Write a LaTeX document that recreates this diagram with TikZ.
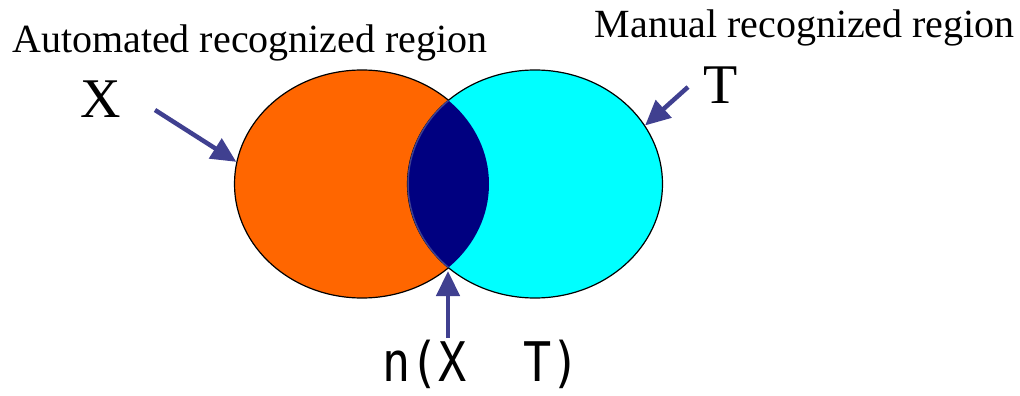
\documentclass[tikz,border=0pt]{standalone}
\usepackage{fontspec}
\setmainfont{Liberation Serif}
\newfontfamily\overlapfont{DejaVu Sans Mono}
\usetikzlibrary{positioning, arrows.meta, shapes.geometric}
\definecolor{vennorange}{RGB}{255,102,0}
\definecolor{venncyan}{RGB}{0,255,255}
\definecolor{vennnavy}{RGB}{0,0,128}
\definecolor{arrowblue}{RGB}{64,64,144}

\begin{document}
\begin{tikzpicture}[x=1pt, y=-1pt,
			region/.style={draw=black, ellipse, line width=1.2pt, minimum width=255pt, minimum height=228pt, inner sep=0pt},
			arrow/.style={-{Triangle[length=25pt,width=23pt]}, line width=4.5pt, draw=arrowblue},
			title/.style={font=\fontsize{40}{44}\selectfont, inner sep=0pt},
			setname/.style={font=\fontsize{56}{60}\selectfont, inner sep=0pt}
			]
			\useasboundingbox (0,0) rectangle (1020,396);
			\node[region, fill=vennorange] (auto) at (362,184) {};
			\node[region, fill=venncyan] (manual) at (535,184) {};
			\begin{scope}
				\clip (362,184) ellipse [x radius=127, y radius=114];
				\filldraw[fill=vennnavy, draw=arrowblue, line width=1.5pt] (535,184) ellipse [x radius=127, y radius=114];
			\end{scope}
			\node[title, anchor=base west] (autotitle) at (12,53) {Automated recognized region};
			\node[title, anchor=base east] (manualtitle) at (1015,38) {Manual recognized region};
			\node[setname, anchor=base] (xname) at (101,117) {X};
			\node[setname, anchor=base] (tname) at (721,103) {T};
			\node[anchor=base, inner sep=0pt, font=\overlapfont\fontsize{52}{56}\selectfont] (overlap) at (481,381) {\scalebox{0.9}[1.05]{n(X\ \ T)}};
			\coordinate (xtail) at (155,110);
			\coordinate (ttail) at (688,87);
			\coordinate (ntail) at (448,338);
			\coordinate (lensbottom) at (448,271);
			\draw[arrow] (xtail) -- (auto.170);
			\draw[arrow] (ttail) -- (manual.28);
			\draw[arrow] (ntail) -- (lensbottom);
		\end{tikzpicture}
\end{document}
